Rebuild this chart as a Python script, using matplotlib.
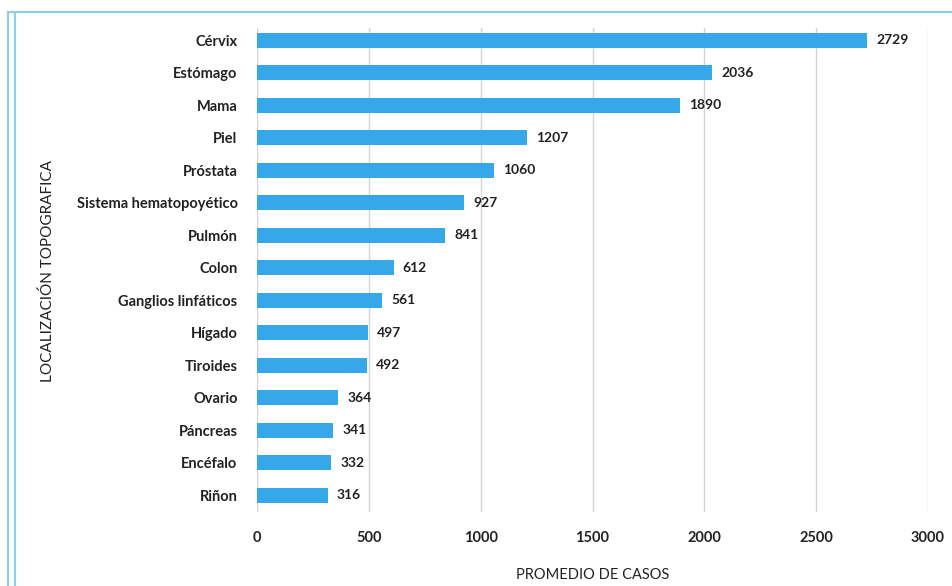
import numpy as np
import matplotlib.pyplot as plt
from matplotlib.lines import Line2D

categorias = ["Cérvix", "Estómago", "Mama", "Piel", "Próstata",
              "Sistema hematopoyético", "Pulmón", "Colon",
              "Ganglios linfáticos", "Hígado", "Tiroides", "Ovario",
              "Páncreas", "Encéfalo", "Riñon"]
casos = [2729, 2036, 1890, 1207, 1060, 927, 841, 612, 561, 497, 492, 364,
         341, 332, 316]
ticks_x = [0, 500, 1000, 1500, 2000, 2500, 3000]

plt.rcParams['font.family'] = ['Lato', 'DejaVu Sans']

fig = plt.figure(figsize=(9.52, 5.86), dpi=100)
ax = fig.add_axes([257/952, 1 - 512/586, (928 - 257)/952, (512 - 28)/586])

y = np.arange(len(categorias))
ax.barh(y, casos, height=0.46, color='#36a7e9', zorder=3)
for yi, v in zip(y, casos):
    ax.text(v + 40, yi, str(v), va='center', ha='left', fontsize=10,
            fontweight='bold', color='#222222')

ax.set_xlim(0, 3000)
ax.set_ylim(14.52, -0.37)
ax.set_xticks(ticks_x)
ax.set_yticks(y)
ax.set_yticklabels(categorias)
ax.tick_params(axis='both', length=0, labelsize=10.5, colors='#222222')
ax.tick_params(axis='x', pad=14)
ax.tick_params(axis='y', pad=14)
for lab in ax.get_xticklabels() + ax.get_yticklabels():
    lab.set_fontweight('bold')
ax.grid(axis='x', color='#d4d4d4', linewidth=1, zorder=0)
for s in ax.spines.values():
    s.set_visible(False)

ax.set_xlabel('PROMEDIO DE CASOS', fontsize=10.5, color='#222222', labelpad=16)
fig.text(48/952, 1 - 271/586, 'LOCALIZACIÓN TOPOGRAFICA', rotation=90,
         ha='center', va='center', fontsize=11, color='#222222')

# marco azul claro
borde = '#8dd0e6'
fig.add_artist(Line2D([8/952, 1], [1 - 12/586] * 2, color=borde, lw=1.5))
fig.add_artist(Line2D([8/952] * 2, [0, 1 - 12/586], color=borde, lw=1.5))
fig.add_artist(Line2D([15/952] * 2, [0, 1 - 12/586], color=borde, lw=1.5))

fig.savefig('out.png', dpi=100)
